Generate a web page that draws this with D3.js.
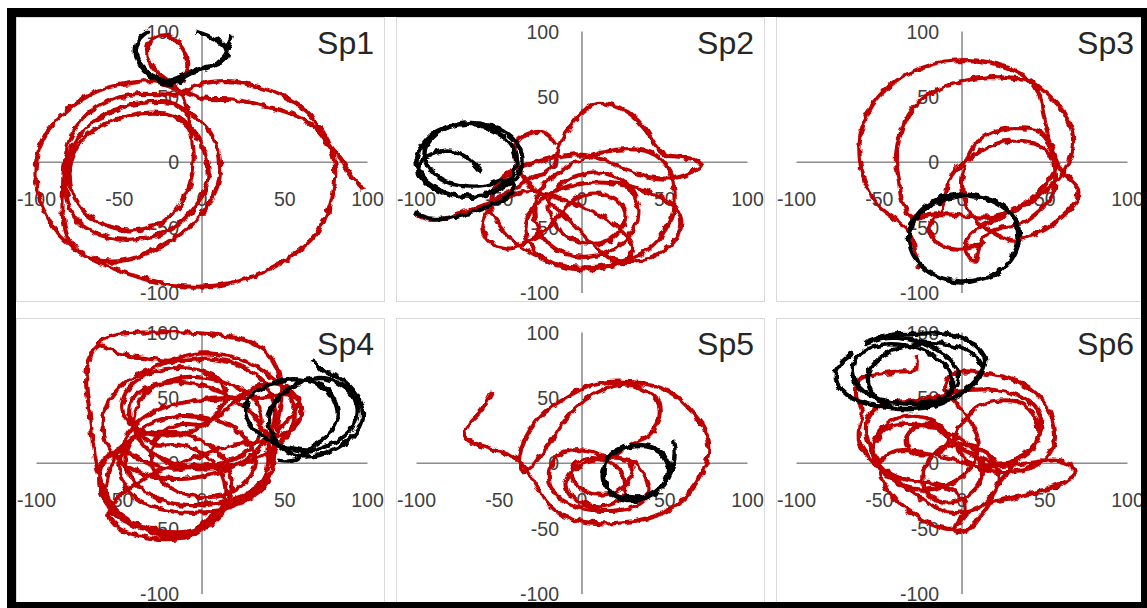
<!DOCTYPE html>
<html>
<head>
<meta charset="utf-8">
<script src="https://cdn.jsdelivr.net/npm/d3@7"></script>
<style>
  html, body { margin: 0; padding: 0; background: #fff; }
  svg { display: block; }
</style>
</head>
<body>
<script>
// Tick values shared by both axes of every panel
const xTicks = [-100, -50, 0, 50, 100];
const yTicks = [-100, -50, 0, 50, 100];
const panelNames = ["Sp1", "Sp2", "Sp3", "Sp4", "Sp5", "Sp6"];

// Sp1 trajectories [x, y]
const sp1Red = [[-12,62],[-9,72],[-10,82],[-15,92],[-22,97],[-29,95],[-33,88],[-32,78],[-27,69],[-20,62],[-14,55],
  [-10,45],[-8,32],[-6,18],[-5,2],[-7,-15],[-12,-30],[-20,-42],[-32,-50],[-46,-52],[-60,-47],[-71,-38],[-78,-24],[-80,-8],[-77,8],[-70,20],[-58,30],[-44,36],[-30,38],[-18,36],[-10,30],
  [-3,20],[2,6],[4,-10],[0,-26],[-8,-40],[-20,-52],[-35,-58],[-50,-59],[-64,-54],[-75,-45],[-81,-30],[-82,-12],[-80,6],[-73,22],[-62,34],[-48,42],[-32,46],[-18,45],[-8,38],
  [2,28],[9,12],[11,-4],[9,-20],[2,-36],[-8,-50],[-22,-62],[-38,-72],[-55,-76],[-70,-72],[-80,-60],[-84,-42],[-84,-22],[-83,0],[-79,20],[-70,36],[-56,47],[-40,52],[-24,52],[-14,52],
  [0,60],[15,62],[30,59],[45,53],[58,44],[68,32],[76,16],[80,0],[80,-18],[76,-38],[68,-56],[56,-70],[40,-82],[22,-91],[2,-95],[-18,-94],[-38,-88],[-56,-80],[-72,-70],[-86,-56],[-95,-38],[-100,-18],[-100,2],[-96,18],[-88,32],[-76,45],[-62,55],[-46,60],[-30,62],[-18,58],[-10,54],
  [0,49],[18,48],[38,43],[56,36],[68,27],[76,15],[84,2],[90,-10],[97,-21]];
const sp1Black = [[-4,100],[3,97],[9,93],[14,88],[15,82],[12,77],[5,73],[-3,70],[-10,66],[-17,60],[-24,61],[-31,66],[-37,74],[-40,84],[-38,94],[-33,100],
  [-37,96],[-40,87],[-38,77],[-32,68],[-22,62],[-12,66],[-2,71],[8,75],[14,81],[16,89],[18,97]];

// Sp2 trajectories
const sp2Red = [[-100,-40],[-92,-44],[-83,-43],[-74,-39],[-64,-35],[-54,-30],[-46,-24],[-38,-18],[-30,-12],[-22,-8],
  [-16,0],[-14,12],[-8,26],[0,38],[8,45],[20,43],[30,36],[38,26],[44,14],[50,6],[60,4],[68,2],[72,-2],[66,-8],[56,-12],[44,-12],[32,-8],[20,-2],[8,4],[-4,6],[-16,4],[-28,0],[-38,-4],[-48,-12],[-54,-24],[-54,-38],[-48,-52],[-38,-64],[-24,-74],[-8,-80],[8,-80],[24,-76],[38,-68],[48,-56],[54,-42],[56,-26],[54,-10],[48,2],[40,8],[28,10],[14,8],[0,2],[-12,-6],[-22,-16],[-28,-30],[-28,-46],[-22,-60],[-10,-70],[6,-72],[20,-66],[30,-54],[34,-40],[32,-26],[24,-14],[12,-8],[-2,-10],[-14,-18],[-20,-30],[-18,-44],[-10,-56],[2,-62],[16,-60],[24,-50],[26,-38],[20,-28],[8,-24],[-4,-28],
  [-12,-38],[-20,-50],[-32,-60],[-44,-66],[-54,-62],[-60,-52],[-58,-40],[-50,-30],[-40,-24],
  [-30,-22],[-18,-26],[-4,-32],[10,-40],[22,-50],[30,-62],[28,-74],[16,-80],[0,-82],[-16,-78],[-28,-68],[-34,-54],[-32,-40],[-24,-28],[-12,-20],[2,-16],[18,-16],[34,-20],[46,-26],[56,-34],[60,-46],[56,-60],[46,-70],[32,-76],[18,-74],
  [6,-62],[-6,-46],[-20,-30],[-34,-14],[-40,2],[-40,14],[-32,22],[-22,22],[-16,14]];
const sp2Black = [[-61,-7],[-66,0],[-73,6],[-81,9],[-89,7],[-96,2],[-99,-6],[-95,-15],[-86,-22],[-74,-26],[-61,-25],[-50,-19],[-42,-9],[-40,3],[-44,15],[-53,24],[-65,29],[-78,28],[-90,22],[-97,12],[-100,1],[-97,-10],[-89,-19],[-77,-25],[-63,-26],[-50,-21],[-40,-12],[-36,0],[-38,12],[-45,22],[-56,28],[-68,30],[-80,27],[-90,20],[-95,9],[-93,-3],[-85,-13],[-72,-18],[-58,-18],[-48,-14],[-41,-18],[-45,-26],[-55,-33],[-68,-39],[-82,-43],[-92,-43],[-101,-39]];

// Sp3 trajectories
const sp3Red = [[-26,-82],[-28,-68],[-32,-54],[-40,-44],[-50,-34],[-57,-20],[-61,-4],[-62,12],[-60,28],[-54,44],[-44,58],[-32,68],[-18,75],[-2,78],[14,77],[28,72],[40,64],[50,54],[58,44],[64,32],[67,20],[66,6],[62,-6],[56,-16],[48,-24],[40,-32],[30,-38],[18,-42],[6,-42],[-6,-40],[-18,-40],[-30,-42],
  [-36,-30],[-38,-14],[-40,2],[-38,18],[-34,32],[-26,46],[-14,56],[0,62],[16,65],[30,64],[42,61],[47,50],[49,38],[51,26],[53,14],[56,4],[60,-6],[66,-14],[70,-20],[69,-30],[62,-40],[52,-50],[42,-56],[32,-60],[22,-56],[14,-50],
  [6,-42],[2,-30],[0,-16],[2,-2],[6,10],[14,20],[24,25],[36,26],[46,24],[52,16],[56,6],[56,-6],[50,-18],[42,-28],[32,-36],[20,-44],[8,-52],[2,-62],[4,-72],[8,-76],[10,-66],[14,-56],[24,-50],[34,-48],[44,-40],[52,-30],[56,-20],[56,-8],[54,4],[48,12],[38,16],[26,16],[16,12],[8,6],[2,0],[-4,-6],[-8,-14],[-10,-26],[-14,-40],[-20,-50],[-16,-60],[-8,-66],[4,-66],[14,-60]];
const sp3Black = [[0,-25],[12,-27],[22,-32],[30,-40],[34,-50],[34,-62],[30,-74],[22,-84],[10,-90],[-2,-91],[-14,-88],[-24,-80],[-30,-70],[-32,-58],[-30,-46],[-24,-36],[-14,-28],[-2,-25],[10,-26],[21,-30],[29,-38],[33,-48],[34,-60],[31,-72],[24,-82],[12,-89],[0,-92],[-12,-89],[-22,-82],[-29,-72],[-32,-60],[-30,-48],[-23,-37],[-12,-29],[-2,-26]];

// Sp4 trajectories
const sp4Red = [[-64,91],[-54,98],[-32,100],[-10,100],[10,98],[26,94],[38,86],[46,70],[48,52],[46,34],[44,14],[42,-6],[34,-20],[20,-30],[6,-40],[-4,-52],[-12,-57],[-24,-55],[-36,-50],[-48,-44],[-56,-34],[-60,-18],[-64,0],[-66,16],[-68,40],[-70,62],[-68,80],[-62,90],
  [-50,84],[-32,80],[-14,78],[4,80],[20,76],[34,66],[42,52],[44,36],[40,20],[30,6],[16,-4],[0,-10],[-18,-12],[-36,-8],[-50,2],[-58,16],[-60,32],[-56,48],[-46,62],[-32,72],
  [-16,80],[0,84],[16,82],[30,76],[42,66],[52,54],[56,40],[54,26],[46,14],[34,4],[18,-2],[0,-4],[-18,0],[-32,10],[-40,24],[-40,40],[-34,54],[-22,62],[-8,66],[8,64],[22,58],[32,48],[36,34],[34,20],[26,8],[12,0],[-4,-2],
  [-20,-4],[-36,2],[-50,10],[-60,0],[-62,-16],[-58,-30],[-48,-42],[-34,-50],[-18,-54],[-4,-52],[8,-44],[16,-30],[18,-14],[14,2],[4,14],[-10,22],[-26,24],[-40,20],[-50,10],
  [-56,-6],[-58,-22],[-52,-36],[-40,-46],[-24,-52],[-8,-52],[4,-46],[12,-34],[14,-18],[10,-4],[0,8],[-14,14],
  [-28,14],[-40,26],[-44,40],[-40,52],[-28,60],[-12,62],[4,58],[18,50],[30,38],[38,24],[42,8],[42,-6],[36,-20],[24,-30],[10,-36],[-6,-38],[-22,-36],[-36,-30],[-46,-18],[-50,-4],
  [-48,10],[-44,24],[-34,36],[-20,44],[-2,48],[16,50],[34,50],[50,52],[58,50],[56,40],[48,28],[40,14],[40,0],[36,-14],[26,-24],[10,-30],[-6,-32],
  [-20,-30],[-34,-22],[-44,-8],[-46,8],[-40,22],[-28,32],[-12,36],[4,34],[18,28],[28,16],[32,2],[28,-12],[18,-22],[4,-26],[-10,-24],[-22,-16],[-30,-2],[-30,12],[-24,24],[-12,30],
  [0,30],[10,40],[14,54],[8,66],[-6,72],[-22,72],[-36,66],[-46,54],[-48,40],[-42,28],[-30,22],[-14,22],[0,28],[12,38],[24,52],[36,60],[48,60],[56,52],[60,40],[56,28],[46,20],[32,16],
  [18,14],[4,8],[-10,2],[-26,-6],[-40,-16],[-52,-28],[-56,-40],[-50,-50],[-36,-56],[-20,-58],[-6,-55],[2,-48]];
const sp4Black = [[66,79],[70,75],[74,70],[82,66],[90,58],[96,46],[97,34],[92,22],[82,12],[70,6],[58,6],[48,12],[42,22],[40,34],[44,46],[52,56],[62,63],[74,65],[84,60],[92,50],[94,38],[90,26],[80,16],[66,10],[52,12],[40,18],[30,28],[26,40],[30,52],[40,60],[52,64],[64,63],[74,58],[80,48],[82,36],[78,24],[68,14],[56,2],[46,2]];

// Sp5 trajectories
const sp5Red = [[-54,55],[-57,48],[-61,40],[-67,32],[-71,24],[-69,18],[-62,14],[-53,10],[-44,6],[-38,2],[-33,-6],[-28,-16],[-22,-28],[-14,-38],[-2,-44],[12,-46],[26,-45],[40,-42],[54,-35],[65,-22],[73,-6],[77,10],[74,26],[66,40],[56,52],[44,59],[30,62],[16,62],[2,58],[-10,50],[-22,40],[-30,28],[-36,14],[-38,2],[-36,-6],[-30,-2],[-24,8],[-18,18],[-12,30],[-4,42],[6,52],[16,58],[28,60],[38,56],[45,49],[47,39],[45,29],[40,21],[32,16],[24,10],
  [18,4],[8,8],[-2,10],[-12,8],[-18,0],[-20,-12],[-16,-24],[-6,-32],[8,-36],[22,-36],[34,-32],[40,-22],[38,-10],[32,0],[22,4],[12,4],[2,0],[-6,-6],[-10,-16],[-6,-26],[4,-32],[16,-32],[24,-26],[26,-16],[22,-4],[14,2],[4,4],[-4,0],[-6,-10],[0,-20],[10,-24],[20,-22],[28,-14],[30,-4],[28,4]];
const sp5Black = [[55,17],[56,8],[55,-2],[52,-12],[46,-21],[37,-27],[27,-28],[18,-23],[13,-14],[13,-4],[17,6],[25,12],[35,14],[45,11],[51,4],[53,-6],[49,-17],[41,-25],[31,-28],[21,-25],[15,-17],[13,-7],[15,3],[22,10],[32,13],[42,12],[49,6],[52,-4],[50,-14],[44,-22],[34,-26],[25,-25]];

// Sp6 trajectories
const sp6Red = [[-28,82],[-28,72],[-40,70],[-52,68],[-62,64],[-64,52],[-60,40],[-62,28],[-62,16],[-56,4],[-48,-6],[-38,-16],[-26,-20],[-12,-18],[0,-10],[8,2],[10,16],[6,30],[-2,44],[-10,56],[-8,66],[0,70],[6,70],
  [16,68],[28,65],[40,58],[50,46],[55,32],[56,18],[52,6],[44,-2],[32,-6],[18,-6],[6,0],[-2,10],[-4,22],[2,34],[10,44],[22,48],[36,46],[44,36],[46,22],[42,10],[32,2],[20,0],
  [8,6],[-4,14],[-12,24],[-18,30],[-28,28],[-34,18],[-30,8],[-22,6],[-12,10],[-8,20],[-14,30],[-26,36],[-40,34],[-50,24],[-54,10],[-50,-2],[-40,-10],
  [-28,-14],[-16,-16],[-4,-22],[2,-32],[0,-44],[-6,-50],[-16,-48],[-28,-40],[-38,-30],[-46,-18],[-50,-6],[-46,6],[-36,10],
  [-22,8],[-8,4],[8,-2],[24,-2],[40,0],[56,2],[66,-2],[68,-8],[60,-16],[46,-22],[32,-26],[18,-30],[6,-36],[-2,-44],[-4,-52],
  [4,-50],[10,-42],[16,-32],[20,-20],[26,-10],[34,4],[44,14],[48,30],[44,44],[34,52],[20,56],[4,56],[-12,52],[-28,48],[-44,46],[-54,40],[-58,28],
  [-56,14],[-50,0],[-40,-12],[-30,-22],[-18,-32],[-6,-38],[6,-36],[16,-28],[22,-14],[20,0],[12,10],[0,14],[-12,12],
  [-20,2],[-24,-10],[-20,-24],[-10,-30],[2,-26],[10,-16],[12,-2],[6,12],[-6,22],[-20,28],[-34,30],[-46,26],[-52,16]];
const sp6Black = [[-66,84],[-72,78],[-76,70],[-75,60],[-68,51],[-56,45],[-42,42],[-28,42],[-16,46],[-8,54],[-6,64],[-10,74],[-18,83],[-30,89],[-44,91],[-56,88],[-64,80],[-66,70],[-62,58],[-52,50],[-38,46],[-24,46],[-12,50],[-4,58],[-2,68],[-8,80],[-20,90],[-34,96],[-48,96],[-58,92],
  [-44,98],[-28,99],[-12,99],[0,96],[10,88],[14,78],[10,66],[0,54],[-12,46],[-26,42],[-40,42],[-50,48],[-56,58],[-56,70],[-50,80],[-38,88],[-22,92],[-6,90],[6,84],[12,74],[8,62],[-2,52],[-14,46]];

const redSeries = [sp1Red, sp2Red, sp3Red, sp4Red, sp5Red, sp6Red];
const blackSeries = [sp1Black, sp2Black, sp3Black, sp4Black, sp5Black, sp6Black];

// ---- layout ----
const W = 1147, H = 608;
const colX = [16, 396, 776], rowY = [17, 318];
const PW = 369, PH = 285;

const x = d3.scaleLinear().domain([-100, 100]).range([20.5, 351.5]);
const y = d3.scaleLinear().domain([-100, 100]).range([276, 14.5]);

const svg = d3.select("body").append("svg").attr("width", W).attr("height", H);

const defs = svg.append("defs");
// rough, hand-traced look for the trajectories
const f = defs.append("filter").attr("id", "jag")
  .attr("x", "-5%").attr("y", "-5%").attr("width", "110%").attr("height", "110%");
f.append("feTurbulence").attr("type", "fractalNoise").attr("baseFrequency", 0.16)
  .attr("numOctaves", 1).attr("seed", 5).attr("result", "n");
f.append("feDisplacementMap").attr("in", "SourceGraphic").attr("in2", "n")
  .attr("scale", 7).attr("xChannelSelector", "R").attr("yChannelSelector", "G");

const line = d3.line().x(d => x(d[0])).y(d => y(d[1])).curve(d3.curveCatmullRom.alpha(0.5));

panelNames.forEach((name, i) => {
  const px = colX[i % 3], py = rowY[Math.floor(i / 3)];
  defs.append("clipPath").attr("id", "clip" + i)
    .append("rect").attr("width", PW).attr("height", PH);

  const g = svg.append("g").attr("transform", `translate(${px},${py})`);
  g.append("rect").attr("x", 0.5).attr("y", 0.5).attr("width", PW - 1).attr("height", PH - 1)
    .attr("fill", "#fff").attr("stroke", "#d9d9d9").attr("stroke-width", 1);

  // axes through the origin
  g.append("line").attr("x1", x(-100)).attr("x2", x(100)).attr("y1", y(0)).attr("y2", y(0))
    .attr("stroke", "#8c8c8c").attr("stroke-width", 1.6);
  g.append("line").attr("x1", x(0)).attr("x2", x(0)).attr("y1", y(100)).attr("y2", y(-100))
    .attr("stroke", "#8c8c8c").attr("stroke-width", 1.6);

  const font = "'Liberation Sans', Arial, sans-serif";
  g.selectAll("text.xt").data(xTicks).join("text").attr("class", "xt")
    .attr("x", d => x(d)).attr("y", y(0) + 44)
    .attr("text-anchor", "middle").attr("font-family", font).attr("font-size", 19.5)
    .attr("fill", "#404040").text(d => d);
  g.selectAll("text.yt").data(yTicks).join("text").attr("class", "yt")
    .attr("x", x(0) - 23).attr("y", d => y(d)).attr("dy", "0.36em")
    .attr("text-anchor", "end").attr("font-family", font).attr("font-size", 19.5)
    .attr("fill", "#404040").text(d => d);

  const pg = g.append("g").attr("clip-path", `url(#clip${i})`);
  const tg = pg.append("g").attr("filter", "url(#jag)");
  tg.append("path").attr("d", line(redSeries[i])).attr("fill", "none")
    .attr("stroke", "#c00000").attr("stroke-width", 4.2).attr("stroke-linejoin", "round");
  tg.append("path").attr("d", line(blackSeries[i])).attr("fill", "none")
    .attr("stroke", "#000").attr("stroke-width", 4.4).attr("stroke-linejoin", "round");

  g.append("text").attr("x", 358).attr("y", 37).attr("text-anchor", "end")
    .attr("font-family", font).attr("font-size", 32).attr("fill", "#262626").text(name);
});

// heavy black frame around the figure
const frame = svg.append("g").attr("fill", "#000");
frame.append("rect").attr("x", 7).attr("y", 8).attr("width", W - 7).attr("height", 9);
frame.append("rect").attr("x", 7).attr("y", 8).attr("width", 9).attr("height", H - 8);
frame.append("rect").attr("x", 1141).attr("y", 8).attr("width", 6).attr("height", H - 8);
frame.append("rect").attr("x", 7).attr("y", 602).attr("width", W - 7).attr("height", 6);
</script>
</body>
</html>
